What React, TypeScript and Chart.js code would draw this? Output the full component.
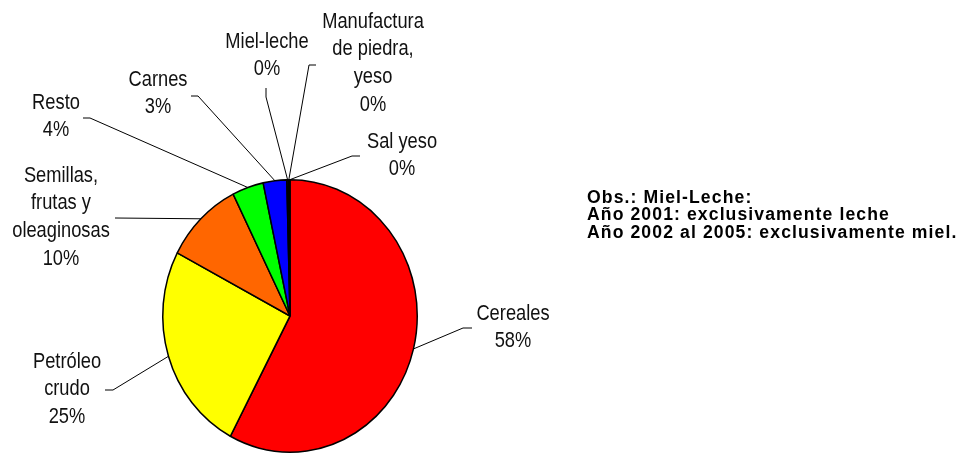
import React, { useEffect, useRef } from "react";
import { Chart, registerables } from "chart.js";

Chart.register(...registerables);

const categories = [
  "Cereales",
  "Petróleo crudo",
  "Semillas, frutas y oleaginosas",
  "Resto",
  "Carnes",
  "Miel-leche",
  "Manufactura de piedra, yeso",
  "Sal yeso",
];
const shares = [58, 25, 10, 4, 3, 0.2, 0.1, 0.1];
const labelLines = [
  ["Cereales"],
  ["Petróleo", "crudo"],
  ["Semillas,", "frutas y", "oleaginosas"],
  ["Resto"],
  ["Carnes"],
  ["Miel-leche"],
  ["Manufactura", "de piedra,", "yeso"],
  ["Sal yeso"],
];
const sliceColors = ["#FF0000", "#FFFF00", "#FF6600", "#00FF00", "#0000FF", "#993366", "#CCFFFF", "#660066"];
const noteLines = [
  "Obs.: Miel-Leche:",
  "Año 2001: exclusivamente leche",
  "Año 2002 al 2005: exclusivamente miel.",
];

// layout of data labels: text centre x, first line y, leader elbow points
const labelLayout = [
  { x: 513, y: 314, leader: [[472, 328], [463, 328]] },
  { x: 67, y: 362, leader: [[105, 390], [113, 390]] },
  { x: 61, y: 176, leader: [[115, 218]] },
  { x: 56, y: 103, leader: [[83, 118], [90, 118]] },
  { x: 158, y: 80, leader: [[191, 96], [198, 96]] },
  { x: 267, y: 42, leader: [[266, 88], [266, 97]] },
  { x: 373, y: 22, leader: [[316, 65], [309, 65]] },
  { x: 402, y: 142, leader: [[360, 156], [352, 156]] },
];
const Y_STRETCH = 137 / 128;
const TEXT_STRETCH = 1.17;
const LINE_H = 27.6;

const stretchPlugin = {
  id: "stretch",
  beforeDatasetsDraw(chart: any) {
    const arc = chart.getDatasetMeta(0).data[0];
    if (!arc) return;
    const ctx = chart.ctx;
    ctx.save();
    ctx.translate(arc.x, arc.y);
    ctx.scale(1, Y_STRETCH);
    ctx.translate(-arc.x, -arc.y);
  },
  afterDatasetsDraw(chart: any) {
    chart.ctx.restore();
  },
};

const labelPlugin = {
  id: "pieLabels",
  afterDraw(chart: any) {
    const ctx = chart.ctx;
    const meta = chart.getDatasetMeta(0);
    const data = chart.data.datasets[0].data as number[];
    const total = data.reduce((a, b) => a + b, 0);
    ctx.save();
    meta.data.forEach((arc: any, i: number) => {
      const mid = (arc.startAngle + arc.endAngle) / 2;
      const ax = arc.x + arc.outerRadius * Math.cos(mid);
      const ay = arc.y + arc.outerRadius * Y_STRETCH * Math.sin(mid);
      const lay = labelLayout[i];
      ctx.beginPath();
      ctx.strokeStyle = "#000";
      ctx.lineWidth = 1;
      lay.leader.forEach((p, k) => {
        if (k === 0) ctx.moveTo(p[0], p[1]);
        else ctx.lineTo(p[0], p[1]);
      });
      ctx.lineTo(ax, ay);
      ctx.stroke();
      const lines = [...labelLines[i], Math.round((data[i] / total) * 100) + "%"];
      ctx.fillStyle = "#111";
      ctx.font = "18.3px 'Liberation Sans', Arial, sans-serif";
      ctx.textAlign = "center";
      ctx.textBaseline = "middle";
      lines.forEach((t, k) => {
        ctx.save();
        ctx.translate(lay.x, lay.y + k * LINE_H);
        ctx.scale(1, TEXT_STRETCH);
        ctx.fillText(t, 0, 0);
        ctx.restore();
      });
    });
    ctx.restore();
  },
};

export default function App() {
  const ref = useRef<HTMLCanvasElement>(null);
  useEffect(() => {
    if (!ref.current) return;
    const chart = new Chart(ref.current, {
      type: "pie",
      data: {
        labels: categories,
        datasets: [
          {
            data: shares,
            backgroundColor: sliceColors,
            borderColor: "#000",
            borderWidth: 1.5,
          },
        ],
      },
      options: {
        responsive: false,
        animation: false,
        devicePixelRatio: 1,
        layout: { padding: { left: 162, right: 545, top: 188, bottom: 11 } },
        plugins: { legend: { display: false }, tooltip: { enabled: false } },
      },
      plugins: [stretchPlugin, labelPlugin],
    });
    return () => chart.destroy();
  }, []);
  return (
    <div style={{ position: "absolute", left: 0, top: 0, width: 963, height: 455, background: "#fff" }}>
      <canvas ref={ref} width={963} height={455} style={{ position: "absolute", left: 0, top: 0 }} />
      <div
        style={{
          position: "absolute",
          left: 587,
          top: 189,
          fontFamily: "'Liberation Sans', Arial, sans-serif",
          fontWeight: "bold",
          fontSize: 17.6,
          letterSpacing: "1.1px",
          lineHeight: "17.4px",
          color: "#000",
          whiteSpace: "nowrap",
        }}
      >
        {noteLines.map((t, i) => (
          <div key={i}>{t}</div>
        ))}
      </div>
    </div>
  );
}
